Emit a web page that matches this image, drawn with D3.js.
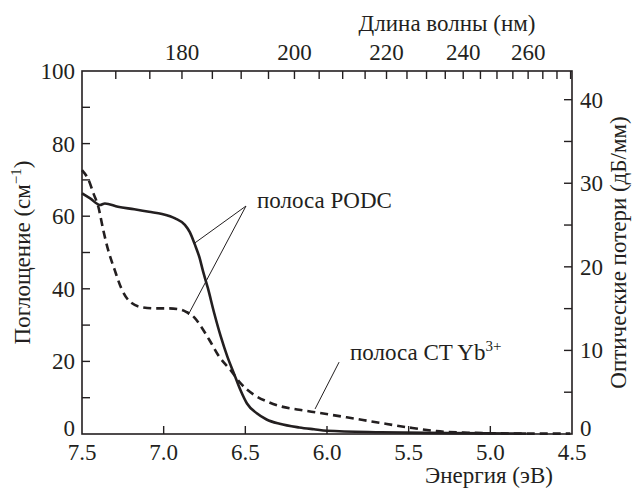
<!DOCTYPE html>
<html>
<head>
<meta charset="utf-8">
<script src="https://cdn.jsdelivr.net/npm/d3@7"></script>
<style>
  body { margin: 0; background: #fff; }
  text { font-family: "Liberation Serif", "DejaVu Serif", "Noto Serif", Tinos, "Nimbus Roman", FreeSerif, Times, serif; }
</style>
</head>
<body>
<div id="chart"></div>
<script>
// Energy (eV) and absorption for the PODC band (solid)
const podcEnergy = [7.50, 7.45, 7.39, 7.36, 7.28, 7.18, 7.09, 7.01, 6.93, 6.87, 6.84, 6.81, 6.78, 6.76, 6.73, 6.69, 6.65, 6.61, 6.57, 6.53, 6.49, 6.43, 6.37, 6.29, 6.17, 6.08, 6.00, 5.67, 5.26, 4.78];
const podcValues = [66.3, 64.9, 63.1, 63.5, 62.6, 61.9, 61.2, 60.6, 59.4, 57.6, 55.6, 52.3, 48.5, 45.0, 40.3, 33.2, 26.8, 21.3, 16.7, 12.1, 8.4, 5.7, 4.0, 2.8, 1.8, 1.3, 0.9, 0.5, 0.25, 0.1];

// Energy (eV) and absorption for the CT Yb3+ band (dashed)
const ctEnergy = [7.50, 7.46, 7.43, 7.40, 7.37, 7.34, 7.30, 7.26, 7.21, 7.13, 7.05, 6.97, 6.91, 6.86, 6.81, 6.78, 6.72, 6.66, 6.59, 6.53, 6.45, 6.37, 6.29, 6.17, 6.06, 5.88, 5.68, 5.50, 5.33, 5.14, 4.98, 4.76, 4.51];
const ctValues = [72.7, 70.0, 66.3, 62.6, 56.2, 50.7, 45.2, 40.2, 36.6, 34.9, 34.6, 34.6, 34.4, 33.6, 32.0, 30.2, 25.9, 21.3, 17.6, 14.0, 10.9, 9.0, 7.7, 6.7, 5.9, 4.6, 3.1, 1.8, 0.8, 0.36, 0.2, 0.1, 0.1];

// Axis ticks
const energyTicks = [7.5, 7.0, 6.5, 6.0, 5.5, 5.0, 4.5];
const absTicks = [0, 10, 20, 30, 40, 50, 60, 70, 80, 90, 100];
const absLabels = [0, 20, 40, 60, 80, 100];
const lossTicks = [0, 5, 10, 15, 20, 25, 30, 35, 40];
const lossLabels = [0, 10, 20, 30, 40];
const waveTicks = d3.range(170, 276, 5);
const waveLabels = [180, 200, 220, 240, 260];

const width = 632, height = 488;
const margin = {top: 71, right: 60, bottom: 54, left: 82};
const fontSize = 23;
const tickLen = 8;
const ink = '#231f20';

const svg = d3.select('#chart').append('svg')
    .attr('width', width)
    .attr('height', height)
    .attr('fill', ink);

const x = d3.scaleLinear().domain([7.5, 4.5]).range([margin.left, width - margin.right]);
const y = d3.scaleLinear().domain([0, 100]).range([height - margin.bottom, margin.top]);
// 1 cm^-1 = 0.4343 dB/mm
const yR = d3.scaleLinear().domain([0, 100 * 0.4343]).range(y.range());

const x0 = x.range()[0], x1 = x.range()[1];
const y0 = y.range()[0], y1 = y.range()[1];

function label(sel) {
    return sel.attr('font-size', fontSize);
}

// frame
svg.append('rect')
    .attr('x', x0).attr('y', y1)
    .attr('width', x1 - x0).attr('height', y0 - y1)
    .attr('fill', 'none').attr('stroke', ink).attr('stroke-width', 1.6);

// bottom axis
svg.append('g')
    .selectAll('line').data(energyTicks.slice(1, -1)).enter().append('line')
    .attr('x1', d => x(d)).attr('x2', d => x(d))
    .attr('y1', y0).attr('y2', y0 - tickLen)
    .attr('stroke', ink).attr('stroke-width', 1.4);
svg.append('g')
    .selectAll('text').data(energyTicks).enter().append('text')
    .call(label)
    .attr('x', d => x(d)).attr('y', y0 + 26)
    .attr('text-anchor', 'middle')
    .text(d => d.toFixed(1));
svg.append('text')
    .call(label)
    .attr('x', 489).attr('y', 483)
    .attr('text-anchor', 'middle')
    .text('Энергия (эВ)');

// top axis (wavelength)
svg.append('g')
    .selectAll('line').data(waveTicks).enter().append('line')
    .attr('x1', d => x(1239.84 / d)).attr('x2', d => x(1239.84 / d))
    .attr('y1', y1).attr('y2', y1 + tickLen)
    .attr('stroke', ink).attr('stroke-width', 1.4);
svg.append('g')
    .selectAll('text').data(waveLabels).enter().append('text')
    .call(label)
    .attr('x', d => x(1239.84 / d)).attr('y', y1 - 11)
    .attr('text-anchor', 'middle')
    .text(d => d);
svg.append('text')
    .call(label)
    .attr('x', 447).attr('y', 31)
    .attr('text-anchor', 'middle')
    .text('Длина волны (нм)');

// left axis
svg.append('g')
    .selectAll('line').data(absTicks.slice(1, -1)).enter().append('line')
    .attr('x1', x0).attr('x2', x0 + tickLen)
    .attr('y1', d => y(d)).attr('y2', d => y(d))
    .attr('stroke', ink).attr('stroke-width', 1.4);
svg.append('g')
    .selectAll('text').data(absLabels).enter().append('text')
    .call(label)
    .attr('x', x0 - 7).attr('y', d => y(d) + (d === 0 ? 2 : 8))
    .attr('text-anchor', 'end')
    .text(d => d);
const leftTitle = svg.append('text')
    .call(label)
    .attr('transform', `translate(30,${(y0 + y1) / 2}) rotate(-90)`)
    .attr('text-anchor', 'middle');
leftTitle.append('tspan').text('Поглощение (см');
leftTitle.append('tspan').attr('dy', -9).attr('font-size', 15).text('−1');
leftTitle.append('tspan').attr('dy', 9).text(')');

// right axis
svg.append('g')
    .selectAll('line').data(lossTicks.slice(1)).enter().append('line')
    .attr('x1', x1).attr('x2', x1 - tickLen)
    .attr('y1', d => yR(d)).attr('y2', d => yR(d))
    .attr('stroke', ink).attr('stroke-width', 1.4);
svg.append('g')
    .selectAll('text').data(lossLabels).enter().append('text')
    .call(label)
    .attr('x', x1 + 8).attr('y', d => yR(d) + (d === 0 ? 2 : 8))
    .attr('text-anchor', 'start')
    .text(d => d);
svg.append('text')
    .call(label)
    .attr('transform', `translate(626,${(y0 + y1) / 2}) rotate(-90)`)
    .attr('text-anchor', 'middle')
    .text('Оптические потери (дБ/мм)');

// curves
const line = d3.line()
    .x(d => x(d[0]))
    .y(d => y(d[1]))
    .curve(d3.curveMonotoneX);

svg.append('path')
    .datum(d3.zip(ctEnergy, ctValues))
    .attr('d', line)
    .attr('fill', 'none')
    .attr('stroke', ink)
    .attr('stroke-width', 2.6)
    .attr('stroke-dasharray', '8,5');

svg.append('path')
    .datum(d3.zip(podcEnergy, podcValues))
    .attr('d', line)
    .attr('fill', 'none')
    .attr('stroke', ink)
    .attr('stroke-width', 2.6);

// annotations: leader lines in data units [E, value]
const leaders = [
    [[6.496, 62.8], [6.81, 52.6]],
    [[6.496, 62.8], [6.85, 32.8]],
    [[5.926, 19.8], [6.073, 6.9]]
];
svg.append('g')
    .selectAll('line').data(leaders).enter().append('line')
    .attr('x1', d => x(d[0][0])).attr('y1', d => y(d[0][1]))
    .attr('x2', d => x(d[1][0])).attr('y2', d => y(d[1][1]))
    .attr('stroke', ink).attr('stroke-width', 1);

svg.append('text')
    .call(label)
    .attr('x', 257).attr('y', 208)
    .text('полоса PODC');

const ct = svg.append('text')
    .call(label)
    .attr('x', 350).attr('y', 360);
ct.append('tspan').text('полоса CT Yb');
ct.append('tspan').attr('dy', -9).attr('font-size', 15).text('3+');
</script>
</body>
</html>
